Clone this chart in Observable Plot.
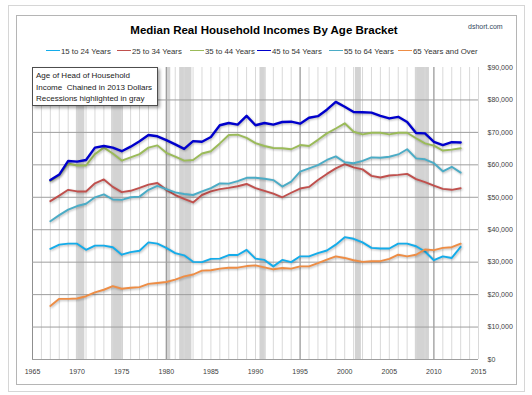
<!DOCTYPE html>
<html><head><meta charset="utf-8">
<script src="https://cdn.jsdelivr.net/npm/d3@7"></script>
<script src="https://cdn.jsdelivr.net/npm/@observablehq/plot@0.6"></script>
<style>
html,body{margin:0;padding:0;background:#fff;}
#wrap{position:relative;width:532px;height:395px;overflow:hidden;font-family:"Liberation Sans",Arial,sans-serif;background:#fff;}
.outer{position:absolute;left:8px;top:5px;width:517px;height:387px;border:1px solid #d6d6d6;box-sizing:border-box;}
.inner{position:absolute;left:16px;top:15px;width:501px;height:370px;border:1px solid #b5b5b5;box-sizing:border-box;}
#title{position:absolute;left:0;width:528px;top:23px;text-align:center;font-weight:bold;font-size:11.5px;line-height:14px;color:#000;}
#src{position:absolute;left:468px;top:22px;font-size:7px;line-height:9px;color:#34495e;}
#legend{position:absolute;left:0;top:46px;width:532px;height:12px;}
.li{position:absolute;top:0;height:11px;font-size:7.8px;line-height:11px;color:#333;white-space:nowrap;}
.sw{display:inline-block;width:14px;height:0;border-top:1.5px solid;vertical-align:middle;margin-right:1px;position:relative;top:-1px;}
#chart{position:absolute;left:0;top:60px;z-index:1;}
#note{position:absolute;left:32px;top:67px;width:126px;height:39px;box-sizing:border-box;border:1px solid #4d4d4d;background:#fff;box-shadow:2px 2px 3px rgba(0,0,0,.35);font-size:8px;line-height:11.5px;padding:2px 0 0 3px;color:#1a1a1a;z-index:2;}
</style></head>
<body><div id="wrap">
<div class="outer"></div><div class="inner"></div>
<div id="title">Median Real Household Incomes By Age Bracket</div>
<div id="src">dshort.com</div>
<div id="legend"></div>
<div id="chart"></div>
<div id="note">Age of Head of Household<br>Income&nbsp; Chained in 2013 Dollars<br>Recessions highlighted in gray</div>
</div>
<script>
// ---- data ----
const years = [1967,1968,1969,1970,1971,1972,1973,1974,1975,1976,1977,1978,1979,1980,1981,1982,1983,1984,1985,1986,1987,1988,1989,1990,1991,1992,1993,1994,1995,1996,1997,1998,1999,2000,2001,2002,2003,2004,2005,2006,2007,2008,2009,2010,2011,2012,2013];

const seriesNames = ["15 to 24 Years","25 to 34 Years","35 to 44 Years","45 to 54 Years","55 to 64 Years","65 Years and Over"];
const seriesColors = ["#14acea","#c0504d","#9bbb59","#0000cc","#4bacc6","#ee8d45"];

const age15to24 = [34100,35400,35700,35700,33800,35100,35100,34600,32300,33100,33500,36100,35700,34400,32800,32100,30100,30000,31000,31100,32200,32200,33800,31100,30700,28700,30700,30000,31800,31800,32800,33600,35400,37700,37200,36100,34400,34200,34200,35700,35700,34900,33300,30600,31800,31300,34700];
const age25to34 = [48800,50500,52300,51800,51800,54300,55500,53200,51600,52000,52900,53900,54400,52300,50700,49500,48400,50700,51800,52500,52900,53400,54100,52800,52000,51100,50000,51400,52700,53200,55300,57200,58900,60200,59200,58600,56600,56100,56700,56900,57200,55600,54700,53600,52600,52300,52800];
const age35to44 = [55000,56800,60400,59800,59800,63300,65300,63500,61300,62300,63300,65300,66000,63700,62500,61300,61500,63500,64200,66600,69200,69300,68300,66700,65800,65200,65100,64800,66100,65800,67700,69700,71200,72800,70200,69400,69900,69900,69400,69900,69900,68200,66600,65900,64400,64700,65100];
const age45to54 = [55300,57000,61200,61000,61500,65300,65800,65300,64200,65600,67300,69200,68800,67600,66300,64900,67300,67100,68600,72200,72900,72400,75100,72200,72900,72400,73200,73300,72700,74500,75000,77000,79400,77900,76300,76200,76100,75100,74300,74800,73200,69800,69700,67100,66100,67000,66900];
const age55to64 = [42600,44500,46200,47300,48000,50000,50900,49300,49200,50000,50200,52300,53500,52500,51500,51000,50700,51800,52800,54300,54200,55000,56000,56000,55700,55300,53300,54800,57900,58900,59900,61500,62600,60800,60500,61200,62300,62200,62500,63200,64800,62000,61700,60500,58000,59400,57600];
const age65plus = [16500,18700,18700,18800,19500,20700,21500,22600,21800,22100,22300,23300,23600,23900,24600,25600,26200,27400,27500,28000,28300,28300,28800,29000,28400,27800,28200,28000,28700,28700,29700,30800,31800,31300,30600,30100,30300,30300,31000,32300,31800,32300,33900,33700,34400,34600,35700];

const seriesValues = [age15to24, age25to34, age35to44, age45to54, age55to64, age65plus];

// recession periods (fractional years)
const recessionStart = [1969.92, 1973.87, 1980.0, 1981.5, 1990.5, 2001.2, 2007.92];
const recessionEnd   = [1970.87, 1975.2, 1980.5, 1982.87, 1991.2, 2001.87, 2009.5];

const xTicks = [1965,1970,1975,1980,1985,1990,1995,2000,2005,2010,2015];
const yTicks = [0,10000,20000,30000,40000,50000,60000,70000,80000,90000];
const majorGridYears = [1965,1980,1995,2010];

// ---- build tables ----
const rows = seriesNames.flatMap((name, s) => seriesValues[s].map((v, i) => ({year: years[i], value: v, series: name})));
const recessions = recessionStart.map((s, i) => ({start: s, end: recessionEnd[i]}));
const minorGridYears = d3.range(xTicks[0], xTicks[xTicks.length - 1] + 1);
const hGrid = yTicks.slice(1, -1);

// ---- legend ----
const legendX = [46, 117, 190, 257, 329, 398];
const legend = document.getElementById("legend");
seriesNames.forEach((n, i) => {
  const d = document.createElement("div");
  d.className = "li";
  d.style.left = legendX[i] + "px";
  d.innerHTML = `<span class="sw" style="border-color:${seriesColors[i]}"></span>${n}`;
  legend.appendChild(d);
});

// ---- chart ----
const lineMarks = seriesNames.map((n, i) =>
  Plot.line(rows.filter(r => r.series === n), {
    x: "year", y: "value",
    stroke: seriesColors[i],
    strokeWidth: n === "45 to 54 Years" ? 2.4 : 1.9,
    strokeLinejoin: "round", strokeLinecap: "round"
  })
);

const chart = Plot.plot({
  width: 532, height: 325,
  marginLeft: 32, marginRight: 54, marginTop: 7, marginBottom: 26,
  x: {domain: [1965, 2015], ticks: xTicks, tickFormat: d => String(d), label: null, tickSize: 0, tickPadding: 10},
  y: {domain: [0, 90000], ticks: yTicks, tickFormat: d3.format("$,"), label: null, axis: "right", tickSize: 0, tickPadding: 9},
  style: {fontFamily: "Liberation Sans, Arial, sans-serif", fontSize: "7px", color: "#404040", background: "transparent", overflow: "visible"},
  marks: [
    Plot.rect(recessions, {x1: "start", x2: "end", fill: "#d3d3d3"}),
    Plot.ruleX(minorGridYears, {stroke: "#d9d9d9", strokeWidth: 1}),
    Plot.ruleX(majorGridYears, {stroke: "#8f8f8f", strokeWidth: 1}),
    Plot.ruleY(hGrid, {stroke: "#9e9e9e", strokeWidth: 1}),
    Plot.ruleY([0], {stroke: "#9e9e9e", strokeWidth: 1}),
    ...lineMarks
  ]
});
document.getElementById("chart").appendChild(chart);
d3.select(chart).selectAll("g[aria-label=line] path").style("filter", "drop-shadow(1px 1.5px 1px rgba(0,0,0,0.28))");
</script>
</body></html>
